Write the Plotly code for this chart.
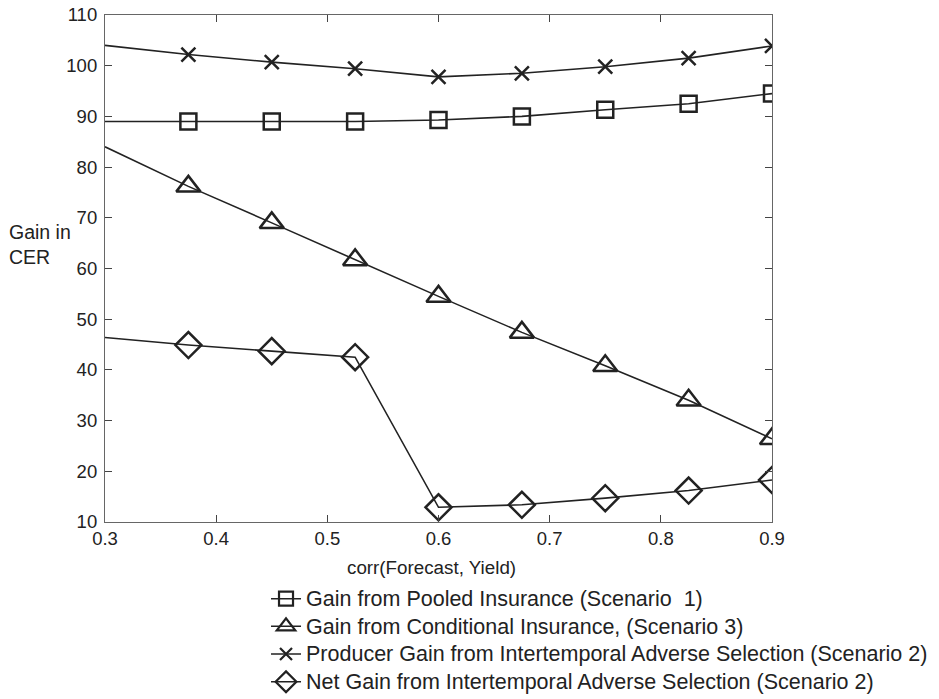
import plotly.graph_objects as go

x_vals = [0.3, 0.375, 0.45, 0.525, 0.6, 0.675, 0.75, 0.825, 0.9]
pooled = [89.0, 89.0, 89.0, 89.0, 89.3, 90.0, 91.3, 92.5, 94.5]
conditional = [84.0, 76.2, 69.0, 61.7, 54.5, 47.4, 40.8, 34.0, 26.4]
producer = [104.0, 102.2, 100.7, 99.4, 97.8, 98.5, 99.8, 101.5, 103.9]
net_gain = [46.4, 44.9, 43.7, 42.5, 12.9, 13.4, 14.7, 16.2, 18.3]

x_ticks = [0.3, 0.4, 0.5, 0.6, 0.7, 0.8, 0.9]
x_tick_text = ["0.3", "0.4", "0.5", "0.6", "0.7", "0.8", "0.9"]
y_ticks = [10, 20, 30, 40, 50, 60, 70, 80, 90, 100, 110]

names = [
    "Gain from Pooled Insurance (Scenario  1)",
    "Gain from Conditional Insurance, (Scenario 3)",
    "Producer Gain from Intertemporal Adverse Selection (Scenario 2)",
    "Net Gain from Intertemporal Adverse Selection (Scenario 2)",
]
series = [pooled, conditional, producer, net_gain]
symbols = ["square-open", "triangle-up-open", "x-thin-open", "diamond-open"]
sizes = [16, 21, 14, 20]
legend_sizes = [14, 18, 12, 17]

ink = "#222222"
font_family = "Liberation Sans, Arial"
fig = go.Figure()
for i, (nm, ys, sym, sz) in enumerate(zip(names, series, symbols, sizes)):
    fig.add_trace(go.Scatter(
        x=x_vals, y=ys, mode="lines+markers", name=nm, showlegend=False,
        line=dict(color=ink, width=1.6),
        marker=dict(symbol=sym, size=[0] + [sz] * (len(x_vals) - 1), opacity=1,
                    color=ink, line=dict(color=ink, width=2.5)),
    ))
# legend entries
for i, (nm, sym, lsz) in enumerate(zip(names, symbols, legend_sizes)):
    fig.add_trace(go.Scatter(
        x=[None], y=[None], mode="lines+markers",
        name='<span style="font-size:21.5px">%s</span>' % nm,
        line=dict(color=ink, width=1.5),
        marker=dict(symbol=sym, size=lsz, color=ink, line=dict(color=ink, width=2.2)),
    ))

axis_common = dict(
    showgrid=False, zeroline=False, showline=True, linecolor="#666666", linewidth=1.2,
    mirror="ticks", ticks="inside", ticklen=7, tickcolor="#444444", tickwidth=1,
    tickfont=dict(family=font_family, size=18.5, color=ink),
)

fig.update_layout(
    width=939, height=699,
    margin=dict(l=105, r=167, t=15, b=177, autoexpand=False),
    paper_bgcolor="white", plot_bgcolor="white",
    xaxis=dict(range=[0.3, 0.9], tickvals=x_ticks, ticktext=x_tick_text,
               ticklabelstandoff=0, **axis_common),
    yaxis=dict(range=[10, 110], tickvals=y_ticks, ticklabelstandoff=3, **axis_common),
    showlegend=True,
    legend=dict(x=0.2414, y=-0.114, xanchor="left", yanchor="top",
                font=dict(family=font_family, size=19, color=ink),
                bgcolor="rgba(0,0,0,0)"),
    annotations=[
        dict(xref="paper", yref="paper", x=-0.147, y=0.548, xanchor="left",
             yanchor="middle", align="left", showarrow=False,
             text="Gain in<br>CER",
             font=dict(family=font_family, size=19.5, color=ink)),
        dict(xref="paper", yref="paper", x=0.489, y=-0.0907, xanchor="center",
             yanchor="middle", showarrow=False, text="corr(Forecast, Yield)",
             font=dict(family=font_family, size=18.8, color=ink)),
    ],
)

fig.write_html("out.html")
